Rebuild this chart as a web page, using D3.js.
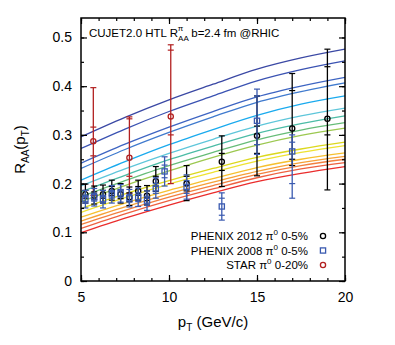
<!DOCTYPE html>
<html>
<head>
<meta charset="utf-8">
<style>
  body { margin: 0; background: #fff; }
  svg text { font-family: "Liberation Sans", Arial, sans-serif; }
</style>
</head>
<body>
<script src="https://cdn.jsdelivr.net/npm/d3@7"></script>
<script>
// theory curves: R_AA sampled at these pT values
var curvePt = [5, 7.5, 10, 12.5, 15, 17.5, 20];
var curveVals = [
  [0.296, 0.336, 0.372, 0.404, 0.435, 0.458, 0.476],
  [0.272, 0.312, 0.348, 0.380, 0.411, 0.434, 0.452],
  [0.242, 0.281, 0.316, 0.348, 0.378, 0.400, 0.418],
  [0.231, 0.270, 0.305, 0.337, 0.367, 0.389, 0.407],
  [0.207, 0.245, 0.280, 0.311, 0.340, 0.363, 0.380],
  [0.195, 0.230, 0.262, 0.291, 0.318, 0.339, 0.355],
  [0.183, 0.217, 0.249, 0.277, 0.303, 0.323, 0.339],
  [0.173, 0.206, 0.237, 0.264, 0.290, 0.310, 0.325],
  [0.163, 0.196, 0.226, 0.254, 0.279, 0.299, 0.314],
  [0.149, 0.179, 0.206, 0.231, 0.254, 0.271, 0.285],
  [0.141, 0.171, 0.199, 0.223, 0.246, 0.264, 0.278],
  [0.131, 0.160, 0.186, 0.210, 0.233, 0.250, 0.263],
  [0.123, 0.152, 0.179, 0.203, 0.225, 0.243, 0.256],
  [0.116, 0.145, 0.172, 0.196, 0.219, 0.237, 0.250],
  [0.108, 0.138, 0.165, 0.189, 0.212, 0.230, 0.243],
  [0.099, 0.129, 0.156, 0.181, 0.204, 0.221, 0.235]
];
var curveColors = ["#3a48a4", "#3a52b2", "#3d64c2", "#3f7ace", "#1aaaee", "#5ec6da",
  "#4cbca6", "#66bc78", "#9cc850", "#dcd81e", "#eee232", "#f6c030",
  "#f6a038", "#f28040", "#ee6040", "#ea2c2c"];

// PHENIX 2012 pi0 0-5% : pT, value, inner (stat) low/high, outer low/high
var p12Pt   = [5.25, 5.75, 6.25, 6.75, 7.25, 7.75, 8.25, 8.75, 9.25, 11, 13, 15, 17, 19];
var p12Val  = [0.178, 0.175, 0.178, 0.185, 0.178, 0.172, 0.185, 0.175, 0.205, 0.200, 0.245, 0.298, 0.313, 0.333];
var p12InLo = [0.170, 0.167, 0.170, 0.176, 0.169, 0.163, 0.176, 0.165, 0.195, 0.185, 0.227, 0.262, 0.250, 0.300];
var p12InHi = [0.186, 0.183, 0.186, 0.194, 0.187, 0.181, 0.194, 0.185, 0.215, 0.215, 0.262, 0.318, 0.391, 0.440];
var p12Lo   = [0.160, 0.158, 0.160, 0.166, 0.160, 0.155, 0.166, 0.156, 0.184, 0.165, 0.194, 0.216, 0.237, 0.187];
var p12Hi   = [0.199, 0.195, 0.197, 0.207, 0.200, 0.193, 0.207, 0.196, 0.235, 0.237, 0.298, 0.380, 0.426, 0.476];

// PHENIX 2008 pi0 0-5%
var p08Pt   = [5.25, 5.75, 6.25, 6.75, 7.25, 7.75, 8.25, 8.75, 9.25, 9.75, 11, 13, 15, 17];
var p08Val  = [0.168, 0.172, 0.168, 0.178, 0.180, 0.170, 0.172, 0.165, 0.190, 0.225, 0.193, 0.153, 0.329, 0.266];
var p08InLo = [0.160, 0.164, 0.160, 0.170, 0.172, 0.162, 0.163, 0.156, 0.180, 0.212, 0.180, 0.135, 0.280, 0.200];
var p08InHi = [0.176, 0.180, 0.176, 0.186, 0.188, 0.178, 0.181, 0.174, 0.200, 0.238, 0.206, 0.170, 0.380, 0.285];
var p08Lo   = [0.150, 0.154, 0.150, 0.160, 0.162, 0.152, 0.153, 0.145, 0.170, 0.195, 0.168, 0.125, 0.260, 0.170];
var p08Hi   = [0.186, 0.190, 0.186, 0.196, 0.198, 0.188, 0.191, 0.185, 0.212, 0.255, 0.218, 0.181, 0.394, 0.300];

// STAR pi0 0-20%
var starPt   = [5.7, 7.75, 10.1];
var starVal  = [0.287, 0.253, 0.338];
var starInLo = [0.257, 0.215, 0.300];
var starInHi = [0.316, 0.333, 0.474];
var starLo   = [0.176, 0.180, 0.200];
var starHi   = [0.397, 0.337, 0.485];

var xTicks = [5, 10, 15, 20];
var yTicks = [0, 0.1, 0.2, 0.3, 0.4, 0.5];

var margin = {top: 18, right: 50, bottom: 64, left: 81},
    width = 395 - margin.left - margin.right,
    height = 345 - margin.top - margin.bottom;

var x = d3.scaleLinear().domain([5, 20]).range([0, width]);
var y = d3.scaleLinear().domain([0, 0.54]).range([height, 0]);

var svg = d3.select("body").append("svg")
  .attr("width", 395).attr("height", 345)
  .append("g")
  .attr("transform", "translate(" + margin.left + "," + margin.top + ")");

svg.append("clipPath").attr("id", "clip")
  .append("rect").attr("width", width).attr("height", height);

// theory curves
var line = d3.line()
  .x(function (d) { return x(d[0]); })
  .y(function (d) { return y(d[1]); })
  .curve(d3.curveMonotoneX);

var curves = svg.append("g").attr("clip-path", "url(#clip)");
curveVals.forEach(function (vals, i) {
  curves.append("path")
    .datum(vals.map(function (v, j) { return [curvePt[j], v]; }))
    .attr("d", line)
    .attr("fill", "none")
    .attr("stroke", curveColors[i])
    .attr("stroke-width", 1.3);
});

// data with error bars
function drawSet(pts, vals, inLo, inHi, lo, hi, color, shape) {
  var g = svg.append("g").attr("clip-path", "url(#clip)");
  pts.forEach(function (p, i) {
    var cx = x(p), cw = 3;
    g.append("line")
      .attr("x1", cx).attr("x2", cx)
      .attr("y1", y(lo[i])).attr("y2", y(hi[i]))
      .attr("stroke", color).attr("stroke-width", 1.3);
    [lo[i], hi[i], inLo[i], inHi[i]].forEach(function (v) {
      g.append("line")
        .attr("x1", cx - cw).attr("x2", cx + cw)
        .attr("y1", y(v)).attr("y2", y(v))
        .attr("stroke", color).attr("stroke-width", 1.2);
    });
    drawMarker(g, cx, y(vals[i]), color, shape);
  });
}

function drawMarker(g, cx, cy, color, shape) {
  if (shape == "square") {
    g.append("rect")
      .attr("x", cx - 2.6).attr("y", cy - 2.6)
      .attr("width", 5.2).attr("height", 5.2)
      .attr("fill", "none").attr("stroke", color).attr("stroke-width", 1.3);
  } else {
    g.append("circle")
      .attr("cx", cx).attr("cy", cy).attr("r", 2.6)
      .attr("fill", "none").attr("stroke", color).attr("stroke-width", 1.3);
  }
}

drawSet(starPt, starVal, starInLo, starInHi, starLo, starHi, "#b22020", "circle");
drawSet(p12Pt, p12Val, p12InLo, p12InHi, p12Lo, p12Hi, "#000", "circle");
drawSet(p08Pt, p08Val, p08InLo, p08InHi, p08Lo, p08Hi, "#3a5ab0", "square");

// axes, ticks on all four sides pointing inward
var xMinor = d3.range(5, 20.01, 1);
var yMinor = d3.range(0, 0.541, 0.05);

svg.append("g").attr("transform", "translate(0," + height + ")")
  .call(d3.axisBottom(x).tickValues(xMinor).tickSize(-3).tickFormat(""));
svg.append("g").attr("transform", "translate(0," + height + ")")
  .call(d3.axisBottom(x).tickValues(xTicks).tickSize(-6).tickPadding(11).tickFormat(d3.format("d")));
svg.append("g")
  .call(d3.axisTop(x).tickValues(xMinor).tickSize(-3).tickFormat(""));
svg.append("g")
  .call(d3.axisTop(x).tickValues(xTicks).tickSize(-6).tickFormat(""));

svg.append("g")
  .call(d3.axisLeft(y).tickValues(yMinor).tickSize(-3).tickFormat(""));
svg.append("g")
  .call(d3.axisLeft(y).tickValues(yTicks).tickSize(-6).tickPadding(9)
    .tickFormat(function (d) { return d == 0 ? "0" : d3.format(".1f")(d); }));
svg.append("g").attr("transform", "translate(" + width + ",0)")
  .call(d3.axisRight(y).tickValues(yMinor).tickSize(-3).tickFormat(""));
svg.append("g").attr("transform", "translate(" + width + ",0)")
  .call(d3.axisRight(y).tickValues(yTicks).tickSize(-6).tickFormat(""));

svg.selectAll(".domain").remove();
svg.selectAll(".tick line").attr("stroke", "#000").attr("stroke-width", 1.2);
svg.selectAll(".tick text").attr("font-size", 14).attr("fill", "#000")
  .attr("font-family", "Liberation Sans, Arial, sans-serif");

svg.append("rect")
  .attr("width", width).attr("height", height)
  .attr("fill", "none").attr("stroke", "#000").attr("stroke-width", 1.5);

// inner title
var title = svg.append("text").attr("x", 8).attr("y", 19)
  .attr("font-size", 11.5).attr("fill", "#000");
title.append("tspan").text("CUJET2.0 HTL R");
title.append("tspan").attr("font-size", 8).attr("dy", 4).text("AA");
title.append("tspan").attr("font-size", 8).attr("dx", -11).attr("dy", -10).text("\u03c0");
title.append("tspan").attr("dx", 8).attr("dy", 6).text("b=2.4 fm @RHIC");

// legend
var legNames = [["PHENIX 2012 \u03c0", " 0-5%"], ["PHENIX 2008 \u03c0", " 0-5%"], ["STAR \u03c0", " 0-20%"]];
var legColors = ["#000", "#3a5ab0", "#b22020"];
var legShapes = ["circle", "square", "circle"];
legNames.forEach(function (n, i) {
  var ly = 222 + i * 14.5;
  var t = svg.append("text").attr("x", 227).attr("y", ly)
    .attr("text-anchor", "end").attr("font-size", 11.5).attr("fill", "#000");
  t.append("tspan").text(n[0]);
  t.append("tspan").attr("font-size", 8).attr("dy", -5).text("0");
  t.append("tspan").attr("dy", 5).text(n[1]);
  drawMarker(svg, 242, ly - 4, legColors[i], legShapes[i]);
});

// axis labels
var xl = svg.append("text").attr("x", width / 2).attr("y", height + 46)
  .attr("text-anchor", "middle").attr("font-size", 15).attr("fill", "#000");
xl.append("tspan").text("p");
xl.append("tspan").attr("font-size", 10).attr("dy", 4).text("T");
xl.append("tspan").attr("dy", -4).text(" (GeV/c)");

var yl = svg.append("text")
  .attr("transform", "translate(-56," + (height / 2) + ") rotate(-90)")
  .attr("text-anchor", "middle").attr("font-size", 15).attr("fill", "#000");
yl.append("tspan").text("R");
yl.append("tspan").attr("font-size", 10).attr("dy", 4).text("AA");
yl.append("tspan").attr("dy", -4).text("(p");
yl.append("tspan").attr("font-size", 10).attr("dy", 4).text("T");
yl.append("tspan").attr("dy", -4).text(")");
</script>
</body>
</html>
